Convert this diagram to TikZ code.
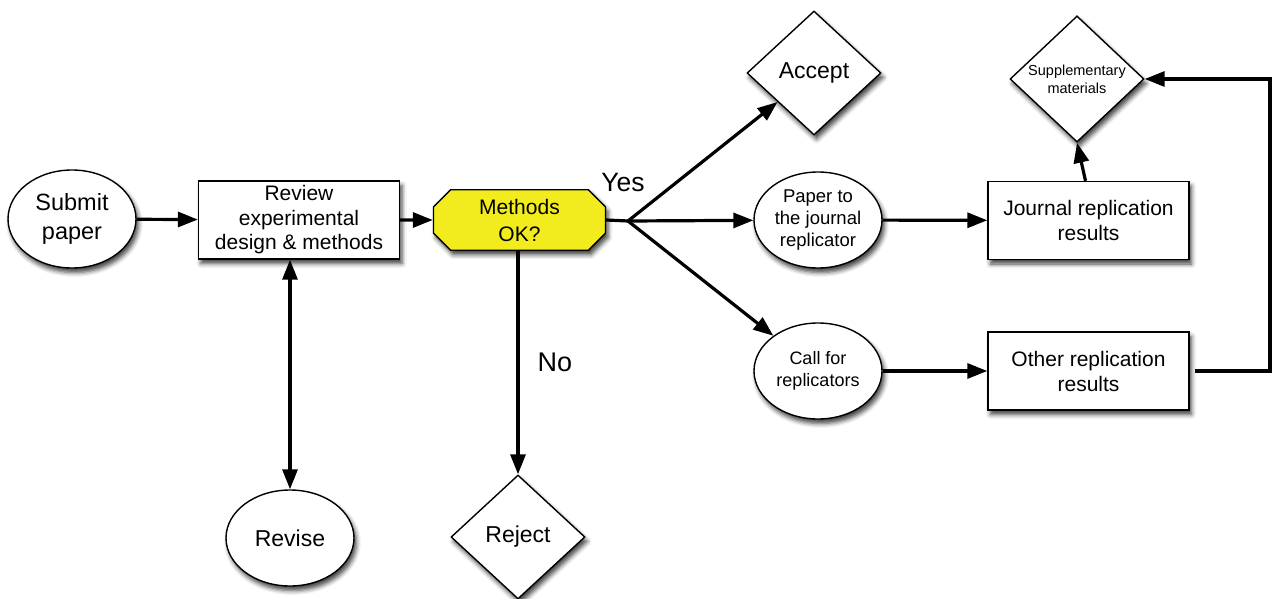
\documentclass[tikz,border=0pt]{standalone}
\usepackage{fontspec}
\setmainfont{Liberation Sans}
\usetikzlibrary{shapes.geometric,shapes.misc,arrows.meta,shadows.blur}
\definecolor{methyellow}{RGB}{242,236,30}
\begin{document}
\begin{tikzpicture}[x=1pt,y=-1pt,
  base/.style={draw=black, line width=1.4pt, fill=white, align=center, inner sep=0pt,
    blur shadow={shadow xshift=2.5pt, shadow yshift=-4.5pt, shadow blur radius=4.5pt, shadow opacity=75}},
  ellnode/.style={base, ellipse, minimum width=128pt, minimum height=96pt},
  boxnode/.style={base, rectangle, minimum width=201pt, minimum height=78pt},
  dianode/.style={base, diamond, minimum width=134pt, minimum height=124pt},
  decnode/.style={base, chamfered rectangle, chamfered rectangle xsep=8pt,
    chamfered rectangle ysep=9pt, fill=methyellow, minimum width=172pt, minimum height=54pt},
  conn/.style={line width=3.2pt, -{Triangle[length=20pt,width=15pt]}},
  conntwo/.style={line width=3.2pt, {Triangle[length=20pt,width=15pt]}-{Triangle[length=20pt,width=15pt]}},
  plain/.style={line width=3.2pt},
  lbl/.style={inner sep=0pt}
]
\useasboundingbox (0,0) rectangle (1272,599);

\node[ellnode, minimum height=98pt, font=\fontsize{23.5}{29}\selectfont] (submit) at (72,219) {Submit\\paper};
\node[boxnode, font=\fontsize{21}{24.5}\selectfont] (review) at (299,220) {Review\\experimental\\design \& methods};
\node[decnode, font=\fontsize{21}{27}\selectfont] (methods) at (519.5,220) {Methods\\OK?};
\node[ellnode, font=\fontsize{23}{27}\selectfont] (revise) at (290,538) {Revise};
\node[dianode, font=\fontsize{23}{27}\selectfont] (reject) at (518,537) {Reject};
\node[dianode, font=\fontsize{23}{27}\selectfont] (accept) at (814,73) {Accept};
\node[ellnode, font=\fontsize{18.5}{22}\selectfont] (paper) at (818,220) {Paper to\\the journal\\replicator};
\node[ellnode, font=\fontsize{18}{21.5}\selectfont] (call) at (818,371) {Call for\\replicators};
\node[boxnode, font=\fontsize{21}{25}\selectfont] (journal) at (1088.5,220.5) {Journal replication\\results};
\node[boxnode, font=\fontsize{21}{25}\selectfont] (other) at (1088.5,371) {Other replication\\results};
\node[dianode, font=\fontsize{14.5}{18}\selectfont] (supp) at (1077,79) {Supplementary\\materials};

\node[lbl, font=\fontsize{26.5}{30}\selectfont] (yes) at (623,183) {Yes};
\node[lbl, font=\fontsize{27}{30}\selectfont] (no) at (555,362) {No};

\coordinate (br) at (628,221);

\draw[conn] (submit) -- (review);
\draw[conn] (review) -- (methods);
\draw[conntwo] (revise.north) -- (revise.north |- review.south);
\draw[conn] (methods.south -| reject.north) -- (reject.north);
\draw[plain] (methods.east) -- (br);
\draw[conn] (br) -- (accept);
\draw[conn] (br) -- (paper);
\draw[conn] (br) -- (call);
\draw[conn] (paper) -- (journal);
\draw[conn] (call) -- (other);
\draw[conn] ([xshift=-3pt]journal.north) -- (supp.south);
\draw[conn] ([xshift=5pt]other.east) -- (1270,371) |- (supp.east);
\end{tikzpicture}
\end{document}
